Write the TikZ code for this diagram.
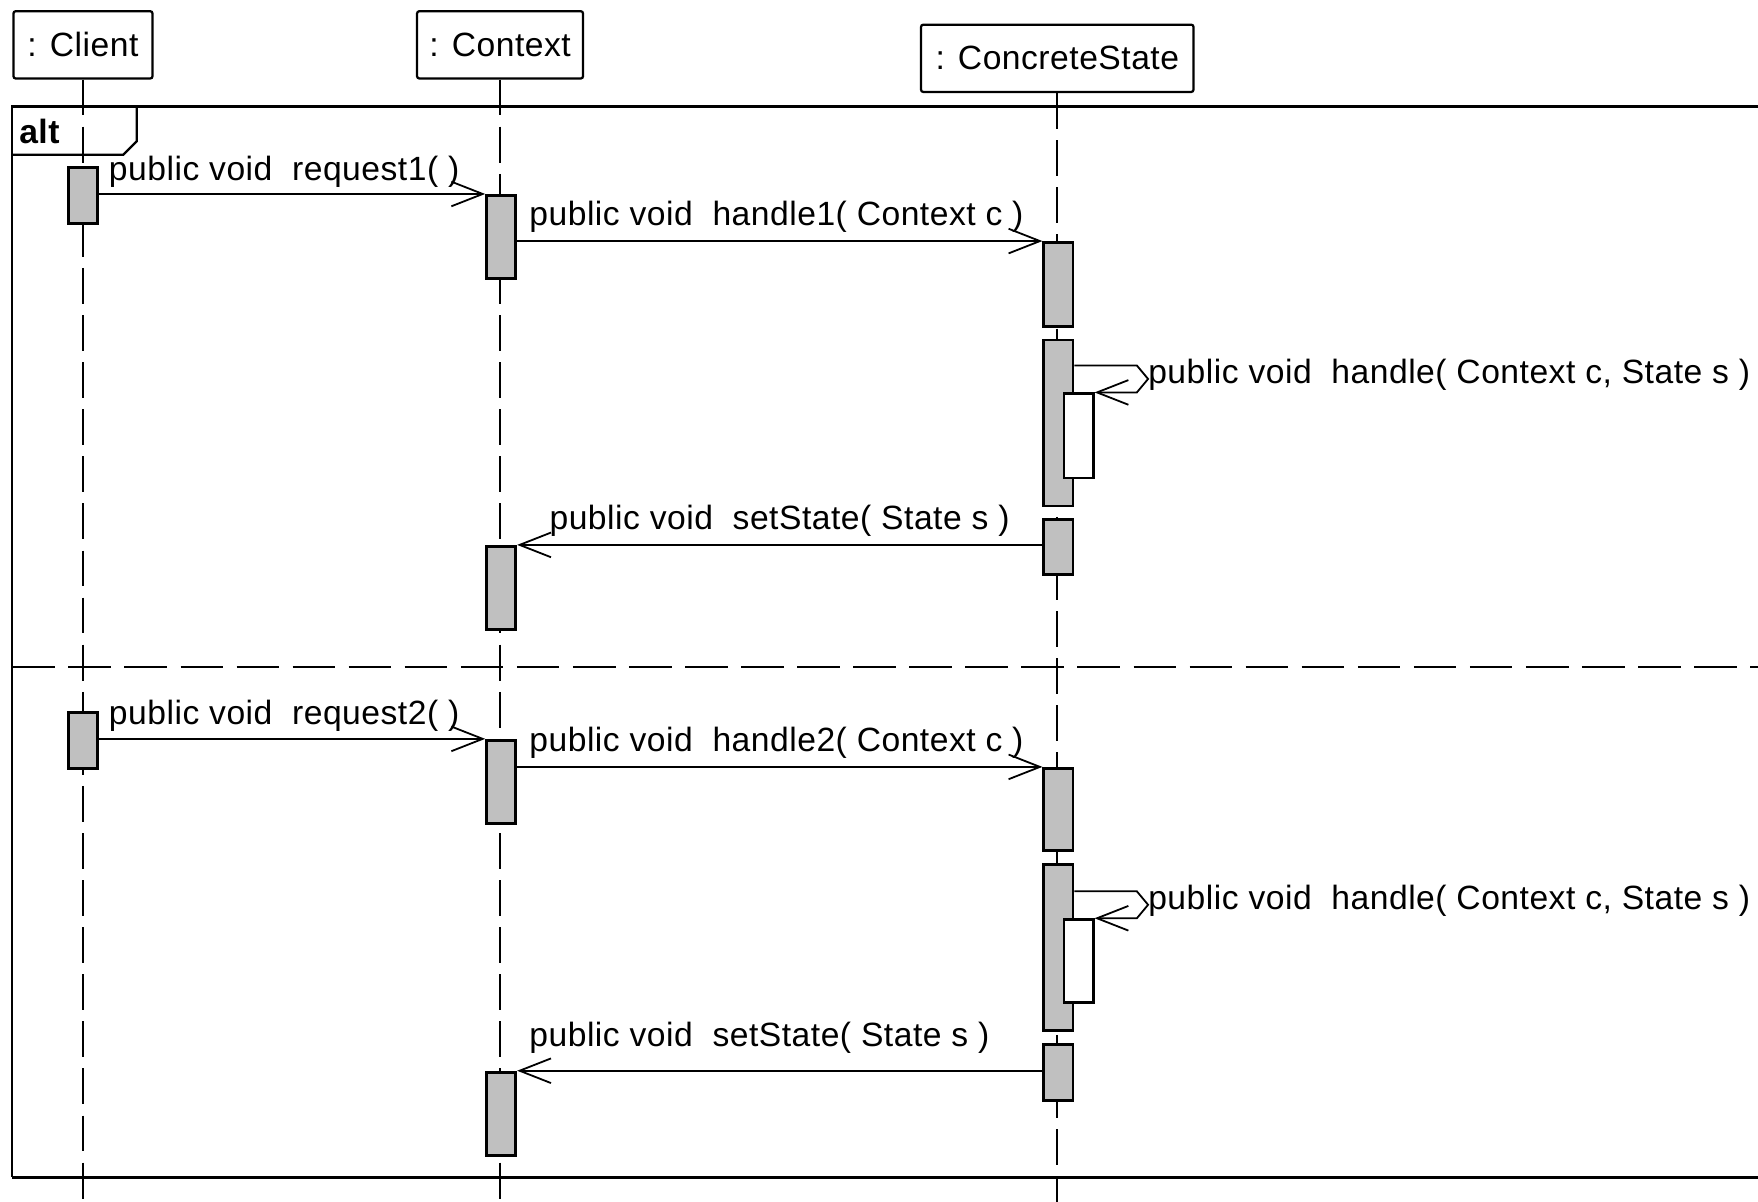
\documentclass[tikz,border=0pt]{standalone}
\usepackage{fontspec}
\setmainfont{Liberation Sans}[LetterSpace=1.5]
\usetikzlibrary{arrows.meta}
\definecolor{barfill}{RGB}{192,192,192}
\tikzset{
  head/.style={draw, line width=2pt, rounded corners=2pt, minimum height=60pt, inner sep=0pt},
  bar/.style={draw, line width=2.5pt, fill=barfill, minimum width=26pt, inner sep=0pt, anchor=north},
  nested/.style={draw, line width=2.5pt, fill=white, minimum width=26pt, inner sep=0pt, anchor=north},
  life/.style={line width=2pt, dash pattern=on 32pt off 10pt},
  msg/.style={line width=1.6pt, -{Straight Barb[length=28pt,width=22pt]}},
  lbl/.style={anchor=base west, inner sep=0pt},
}
\begin{document}
\begin{tikzpicture}[x=1pt, y=-1pt, font=\fontsize{30}{36}\selectfont]
\clip (0,0) rectangle (1568,1072);

\node[head, minimum width=124pt] (client) at (74,40) {: Client};
\node[head, minimum width=148pt] (context) at (446,40) {: Context};
\node[head, minimum width=243pt] (state) at (943,52) {: ConcreteState};

\draw[life] (client.south) -- (client.south |- 0,1072);
\draw[life] (context.south) -- (context.south |- 0,1072);
\draw[life] (state.south) -- (state.south |- 0,1072);

\draw[line width=2pt] (1600,95) -- (11,95) -- (11,1050);
\draw[line width=3pt] (11,1050) -- (1600,1050);
\draw[line width=2pt] (11,138) -- (110,138) -- (122,126) -- (122,95);
\node[anchor=base west, inner sep=0pt, font=\fontsize{30}{36}\selectfont\bfseries] (alt) at (17,128) {alt};
\draw[line width=2pt, dash pattern=on 38pt off 12pt] (11,595) -- (1600,595);

\node[bar, minimum height=50pt] (cl1) at (74,148) {};
\node[bar, minimum height=50pt] (cl2) at (74,634) {};

\node[bar, minimum height=74pt] (co1) at (447,173) {};
\node[bar, minimum height=74pt] (co2) at (447,486) {};
\node[bar, minimum height=74pt] (co3) at (447,659) {};
\node[bar, minimum height=74pt] (co4) at (447,955) {};

\node[bar, minimum height=75pt] (cs1) at (944,215) {};
\node[bar, minimum height=148pt] (cs2) at (944,302) {};
\node[nested, minimum height=75pt] (ns1) at (962,350) {};
\node[bar, minimum height=49pt] (cs3) at (944,462) {};
\node[bar, minimum height=73pt] (cs4) at (944,684) {};
\node[bar, minimum height=148pt] (cs5) at (944,770) {};
\node[nested, minimum height=74pt] (ns2) at (962,819) {};
\node[bar, minimum height=50pt] (cs6) at (944,930) {};

\draw[msg] (cl1.east |- co1.north) -- (co1.north west);
\node[lbl] (m1) at (97,161) {public void\ \ request1( )};
\draw[msg] (co1.east |- cs1.north) -- (cs1.north west);
\node[lbl] (m2) at (472,201) {public void\ \ handle1( Context c )};
\draw[msg] (cs2.east |- 0,326) -- (1014,326) -- (1024,338) -- (1014,350) -- (ns1.north east);
\node[lbl] (m3) at (1024,342) {public void\ \ handle( Context c, State s )};
\draw[msg] (cs3.west |- co2.north) -- (co2.north east);
\node[lbl] (m4) at (490,472) {public void\ \ setState( State s )};

\draw[msg] (cl2.east |- co3.north) -- (co3.north west);
\node[lbl] (m5) at (97,646) {public void\ \ request2( )};
\draw[msg] (co3.east |- cs4.north) -- (cs4.north west);
\node[lbl] (m6) at (472,670) {public void\ \ handle2( Context c )};
\draw[msg] (cs5.east |- 0,795) -- (1014,795) -- (1024,807) -- (1014,819) -- (ns2.north east);
\node[lbl] (m7) at (1024,811) {public void\ \ handle( Context c, State s )};
\draw[msg] (cs6.west |- co4.north) -- (co4.north east);
\node[lbl] (m8) at (472,933) {public void\ \ setState( State s )};

\end{tikzpicture}
\end{document}
